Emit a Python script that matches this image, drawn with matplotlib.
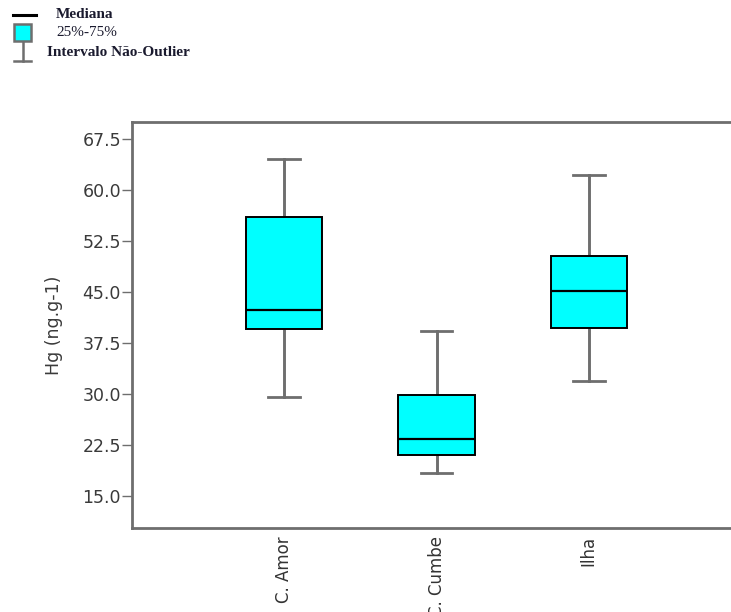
import matplotlib
matplotlib.use("Agg")
import matplotlib.pyplot as plt
from matplotlib.lines import Line2D
from matplotlib.patches import Rectangle

categories = ["C. Amor", "C. Cumbe", "Ilha"]
whisker_low = [29.6, 18.4, 31.9]
q1 = [39.5, 21.0, 39.7]
median = [42.4, 23.4, 45.1]
q3 = [56.0, 29.9, 50.3]
whisker_high = [64.5, 39.3, 62.2]
yticks = [15.0, 22.5, 30.0, 37.5, 45.0, 52.5, 60.0, 67.5]

W, H = 731, 612
fig = plt.figure(figsize=(W / 100, H / 100), dpi=100)
ax = fig.add_axes([132 / W, 1 - 528 / H, (731 - 132) / W, (528 - 122) / H])

stats = []
for i, c in enumerate(categories):
    stats.append(dict(label=c, whislo=whisker_low[i], q1=q1[i], med=median[i],
                      q3=q3[i], whishi=whisker_high[i], fliers=[]))

grey = "#6e6e6e"
ax.bxp(stats, positions=[1, 2, 3], widths=0.5, patch_artist=True, showfliers=False,
       boxprops=dict(facecolor="#00FFFF", edgecolor="black", linewidth=1.4, zorder=3),
       medianprops=dict(color="black", linewidth=1.6, zorder=4),
       whiskerprops=dict(color=grey, linewidth=2.1, zorder=2),
       capprops=dict(color=grey, linewidth=2.0, zorder=2),
       capwidths=0.21)

ax.set_xlim(0, (731 - 133) / 152)
ax.set_ylim(10.3, 70.0)
ax.set_yticks(yticks)
ax.set_yticklabels([f"{v:.1f}" for v in yticks])
ax.set_xticks([1, 2, 3])
ax.set_xticklabels(categories, rotation=90, va="top", ha="center")
ax.tick_params(axis="x", length=0, pad=6, labelsize=12, colors="#333333")
ax.tick_params(axis="y", length=7, width=1.0, color=grey, labelsize=12.5,
               labelcolor="#3a3a3a", pad=1)
ax.set_ylabel("Hg (ng.g-1)", fontsize=12.5, color="#3a3a3a", labelpad=14)

for s in ["left", "top", "bottom"]:
    ax.spines[s].set_color(grey)
    ax.spines[s].set_linewidth(2)
ax.spines["right"].set_visible(False)

# Legend drawn in pixel coordinates
lax = fig.add_axes([0, 0, 1, 1])
lax.set_xlim(0, W)
lax.set_ylim(H, 0)
lax.axis("off")
lax.patch.set_alpha(0)
lax.add_line(Line2D([13, 36], [15, 15], color="black", linewidth=2.2))
lax.add_patch(Rectangle((14, 24), 17, 17, facecolor="#00FFFF", edgecolor=grey, linewidth=1.8))
lax.add_line(Line2D([22.5, 22.5], [42, 61], color=grey, linewidth=1.8))
lax.add_line(Line2D([14, 31], [61, 61], color=grey, linewidth=1.8))
font = dict(family="Liberation Serif", fontsize=11, fontweight="bold", color="#1a1a2e", va="center")
lax.text(56, 15, "Mediana", **font)
lax.text(56, 33, "25%-75%", **dict(font, fontweight="normal"))
lax.text(47, 53, "Intervalo Não-Outlier", **font)

fig.savefig("out.png", dpi=100)
